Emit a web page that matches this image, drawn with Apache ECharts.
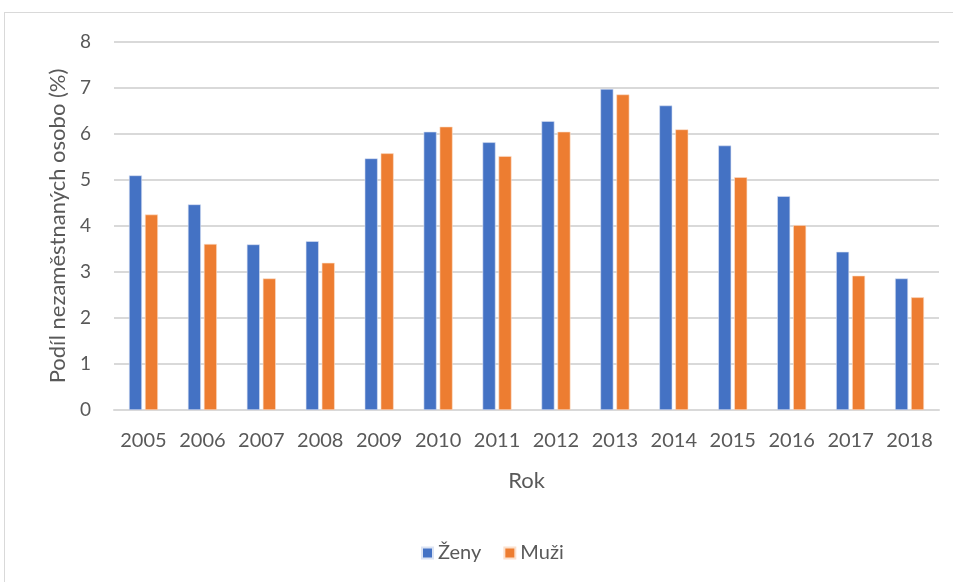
<!DOCTYPE html>
<html>
<head>
<meta charset="utf-8">
<script src="https://cdn.jsdelivr.net/npm/echarts@6/dist/echarts.min.js"></script>
<style>
    html, body { margin: 0; padding: 0; background: #fff; overflow: hidden; }
    #frame { position: absolute; left: 4px; top: 12px; width: 1000px; height: 640px; border: 1px solid #d9d9d9; }
    #main { position: absolute; left: 0; top: 0; width: 953px; height: 582px; }
</style>
</head>
<body>
<div id="frame"></div>
<div id="main"></div>
<script>
'use strict';
// roky
var years = ['2005', '2006', '2007', '2008', '2009', '2010', '2011', '2012', '2013', '2014', '2015', '2016', '2017', '2018'];
// podíl nezaměstnaných - ženy / muži (%)
var zeny = [5.1, 4.47, 3.6, 3.67, 5.47, 6.05, 5.82, 6.28, 6.98, 6.62, 5.75, 4.65, 3.44, 2.86];
var muzi = [4.25, 3.61, 2.86, 3.2, 5.58, 6.16, 5.52, 6.05, 6.86, 6.1, 5.06, 4.02, 2.92, 2.45];
var yTicks = [0, 1, 2, 3, 4, 5, 6, 7, 8];

(function() {
    var myChart = echarts.init(document.getElementById('main'));
    var textColor = '#595959';
    var font = 'Lato, "Open Sans", sans-serif';

    var option = {
        animation: false,
        textStyle: { fontFamily: font, color: textColor },
        grid: { left: 114, right: 14, top: 42, bottom: 172 },
        legend: {
            left: 416,
            top: 538,
            itemWidth: 11,
            itemHeight: 11,
            itemGap: 22,
            icon: 'rect',
            textStyle: { fontSize: 20, color: textColor, fontFamily: font },
            data: ['Ženy', 'Muži']
        },
        xAxis: {
            type: 'category',
            data: years,
            name: 'Rok',
            nameLocation: 'middle',
            nameGap: 60,
            nameTextStyle: { fontSize: 22, color: textColor },
            axisLine: { lineStyle: { color: '#d9d9d9', width: 2 } },
            axisTick: { show: false },
            axisLabel: { interval: 0, margin: 21, fontSize: 20, color: textColor }
        },
        yAxis: {
            type: 'value',
            min: yTicks[0],
            max: yTicks[yTicks.length - 1],
            interval: 1,
            name: 'Podíl nezaměstnaných osobo (%)',
            nameLocation: 'middle',
            nameGap: 44,
            nameTextStyle: { fontSize: 22, color: textColor },
            axisLine: { show: false },
            axisTick: { show: false },
            axisLabel: { margin: 23, fontSize: 19, color: textColor },
            splitLine: { lineStyle: { color: '#d9d9d9', width: 2 } }
        },
        series: [{
            name: 'Ženy',
            type: 'bar',
            data: zeny,
            barWidth: 13,
            barGap: '23%',
            itemStyle: { color: '#4472c4', borderColor: '#dbe3f3', borderWidth: 0.6 }
        }, {
            name: 'Muži',
            type: 'bar',
            data: muzi,
            barWidth: 13,
            itemStyle: { color: '#ed7d31', borderColor: '#fbe0cc', borderWidth: 0.6 }
        }]
    };

    myChart.setOption(option);
})();
</script>
</body>
</html>
